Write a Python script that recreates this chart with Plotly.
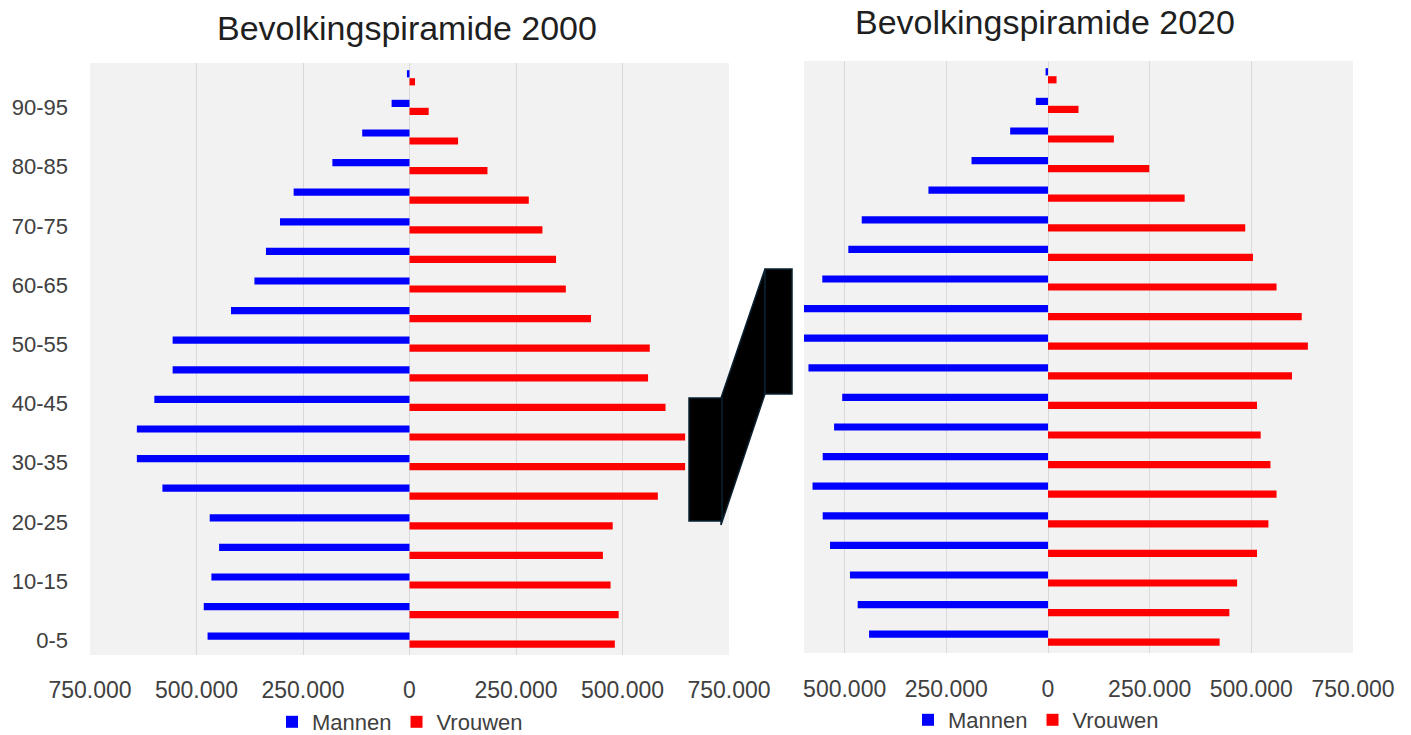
import plotly.graph_objects as go

W, H = 1411, 735

age_groups = ["0-5", "5-10", "10-15", "15-20", "20-25", "25-30", "30-35", "35-40", "40-45", "45-50",
              "50-55", "55-60", "60-65", "65-70", "70-75", "75-80", "80-85", "85-90", "90-95", "95-100"]
tick_groups = ["0-5", "10-15", "20-25", "30-35", "40-45", "50-55", "60-65", "70-75", "80-85", "90-95"]

men_2000 = [474000, 483000, 465000, 447000, 469000, 580000, 640000, 640000, 599000, 556000,
            556000, 419000, 364000, 337000, 304000, 272000, 181000, 111000, 42000, 6000]
women_2000 = [482000, 491000, 472000, 454000, 477000, 583000, 647000, 647000, 601000, 560000,
              564000, 426000, 367000, 344000, 312000, 280000, 183000, 114000, 45000, 13000]
men_2020 = [440000, 468000, 487000, 536000, 554000, 579000, 554000, 526000, 506000, 589000,
            605000, 605000, 555000, 491000, 458000, 294000, 188000, 93000, 30000, 6000]
women_2020 = [422000, 446000, 465000, 514000, 542000, 562000, 547000, 523000, 514000, 600000,
              639000, 624000, 562000, 504000, 485000, 336000, 249000, 162000, 75000, 21000]

x_ticks_2000 = [-750000, -500000, -250000, 0, 250000, 500000, 750000]
x_ticks_2020 = [-500000, -250000, 0, 250000, 500000, 750000]


def fmt(v):
    return "{:,}".format(abs(v)).replace(",", ".")


BLUE = "#0000ff"
RED = "#ff0000"
TXT = "#404040"
FONT = "Liberation Sans, Arial, sans-serif"


def px_x(p):
    return p / W


def px_y(p):
    return 1 - p / H


fig = go.Figure()

# left chart (2000): women first so men sit above within each group
fig.add_trace(go.Bar(y=age_groups, x=women_2000, orientation="h", name="Vrouwen",
                     marker=dict(color=RED, line=dict(width=0)), xaxis="x", yaxis="y",
                     legend="legend", legendrank=2))
fig.add_trace(go.Bar(y=age_groups, x=[-v for v in men_2000], orientation="h", name="Mannen",
                     marker=dict(color=BLUE, line=dict(width=0)), xaxis="x", yaxis="y",
                     legend="legend", legendrank=1))
# right chart (2020)
fig.add_trace(go.Bar(y=age_groups, x=women_2020, orientation="h", name="Vrouwen",
                     marker=dict(color=RED, line=dict(width=0)), xaxis="x2", yaxis="y2",
                     legend="legend2", legendrank=2))
fig.add_trace(go.Bar(y=age_groups, x=[-v for v in men_2020], orientation="h", name="Mannen",
                     marker=dict(color=BLUE, line=dict(width=0)), xaxis="x2", yaxis="y2",
                     legend="legend2", legendrank=1))

axis_common = dict(showgrid=True, gridcolor="#d9d9d9", gridwidth=1, zeroline=True,
                   zerolinecolor="#d9d9d9", zerolinewidth=1, showline=False, ticks="",
                   tickfont=dict(family=FONT, size=23, color=TXT), automargin=False,
                   fixedrange=True)

legend_common = dict(orientation="h", xanchor="center", yanchor="middle",
                     xref="container", yref="container",
                     font=dict(family=FONT, size=22, color=TXT), bgcolor="rgba(0,0,0,0)",
                     itemwidth=30, traceorder="normal", tracegroupgap=0)

fig.update_layout(
    width=W, height=H,
    margin=dict(l=0, r=0, t=0, b=0, pad=0, autoexpand=False),
    paper_bgcolor="white",
    plot_bgcolor="#f2f2f2",
    barmode="group", bargap=0.46, bargroupgap=0.1,
    font=dict(family=FONT, color=TXT),
    xaxis=dict(domain=[px_x(90), px_x(729)], range=[-750000, 750000], anchor="y",
               tickvals=x_ticks_2000, ticktext=[fmt(v) for v in x_ticks_2000],
               ticklabelstandoff=19, **axis_common),
    yaxis=dict(domain=[px_y(655), px_y(63)], type="category", categoryorder="array",
               categoryarray=age_groups, anchor="x", tickvals=tick_groups, ticktext=tick_groups,
               showgrid=False, zeroline=False, showline=False, ticks="",
               tickfont=dict(family=FONT, size=22, color=TXT), automargin=False,
               ticklabelstandoff=21, fixedrange=True),
    xaxis2=dict(domain=[px_x(804), px_x(1353)], range=[-600000, 750000], anchor="y2",
                tickvals=x_ticks_2020, ticktext=[fmt(v) for v in x_ticks_2020],
                ticklabelstandoff=20, **axis_common),
    yaxis2=dict(domain=[px_y(653), px_y(61)], type="category", categoryorder="array",
                categoryarray=age_groups, anchor="x2", showticklabels=False,
                showgrid=False, zeroline=False, showline=False, ticks="", automargin=False,
                fixedrange=True),
    legend=dict(x=px_x(400), y=px_y(722), **legend_common),
    legend2=dict(x=px_x(1036), y=px_y(720), **legend_common),
    annotations=[
        dict(text="Bevolkingspiramide 2000", x=px_x(407), y=px_y(28), xref="paper", yref="paper",
             xanchor="center", yanchor="middle", showarrow=False,
             font=dict(family=FONT, size=34, color="#1f1f1f")),
        dict(text="Bevolkingspiramide 2020", x=px_x(1045), y=px_y(22), xref="paper", yref="paper",
             xanchor="center", yanchor="middle", showarrow=False,
             font=dict(family=FONT, size=34, color="#1f1f1f")),
    ],
)


# decorative "zoom" connector between the two pyramids
def path(points):
    s = "M " + " L ".join("{:.5f},{:.5f}".format(px_x(a), px_y(b)) for a, b in points) + " Z"
    return s


conn_line = dict(color="#0b2233", width=1.5)
fig.add_shape(type="path", xref="paper", yref="paper", layer="above",
              path=path([(721, 398), (765, 269), (765, 394), (721, 525)]),
              fillcolor="black", line=conn_line)
fig.add_shape(type="rect", xref="paper", yref="paper", layer="above",
              x0=px_x(689), x1=px_x(722), y0=px_y(521), y1=px_y(398),
              fillcolor="black", line=conn_line)
fig.add_shape(type="rect", xref="paper", yref="paper", layer="above",
              x0=px_x(765), x1=px_x(792), y0=px_y(394), y1=px_y(269),
              fillcolor="black", line=conn_line)

fig.write_html("out.html")
